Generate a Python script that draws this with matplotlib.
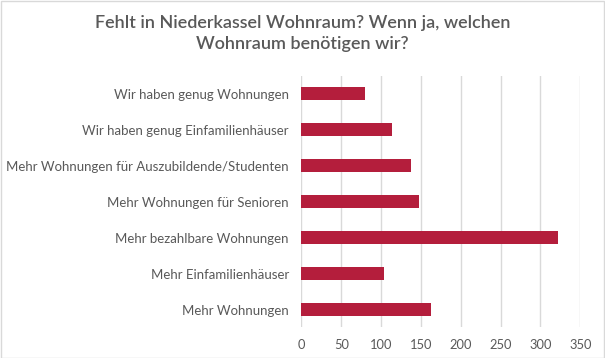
import matplotlib
matplotlib.use("Agg")
import matplotlib.pyplot as plt
from matplotlib.patches import Rectangle

categories = [
    "Wir haben genug Wohnungen",
    "Wir haben genug Einfamilienhäuser",
    "Mehr Wohnungen für Auszubildende/Studenten",
    "Mehr Wohnungen für Senioren",
    "Mehr bezahlbare Wohnungen",
    "Mehr Einfamilienhäuser",
    "Mehr Wohnungen",
]
values = [80, 114, 137, 148, 322, 104, 162]
xticks = [0, 50, 100, 150, 200, 250, 300, 350]
title = "Fehlt in Niederkassel Wohnraum? Wenn ja, welchen\nWohnraum benötigen wir?"

plt.rcParams['font.family'] = ['Lato', 'DejaVu Sans']
gray = "#595959"

fig = plt.figure(figsize=(6.05, 3.58), dpi=100)
ax = fig.add_axes([0.4983, 0.0852, 0.4609, 0.7038])

ypos = list(range(len(categories)))
ax.barh(ypos, values, height=0.36, color="#b41e3c", zorder=3)
ax.set_ylim(len(categories) - 0.5, -0.5)
ax.set_yticks(ypos)
ax.set_yticklabels(categories, fontsize=9.5, color=gray)
ax.set_xlim(0, 350)
ax.set_xticks(xticks)
ax.set_xticklabels([str(t) for t in xticks], fontsize=9.3, color=gray)
ax.tick_params(axis='both', length=0)
ax.tick_params(axis='y', pad=9)
ax.tick_params(axis='x', pad=8)
ax.grid(axis='x', color="#d9d9d9", linewidth=1, zorder=0)
for s in ax.spines.values():
    s.set_visible(False)

fig.text(0.5, 0.906, title, ha='center', va='center', fontsize=13, color=gray,
         fontweight='semibold', linespacing=1.4)

fig.patches.append(Rectangle((0.5 / 605, 0.5 / 358), 1 - 1.5 / 605, 1 - 1.5 / 358,
                             transform=fig.transFigure, fill=False,
                             edgecolor="#d9d9d9", linewidth=1))

fig.savefig("out.png", dpi=100, facecolor="white")
